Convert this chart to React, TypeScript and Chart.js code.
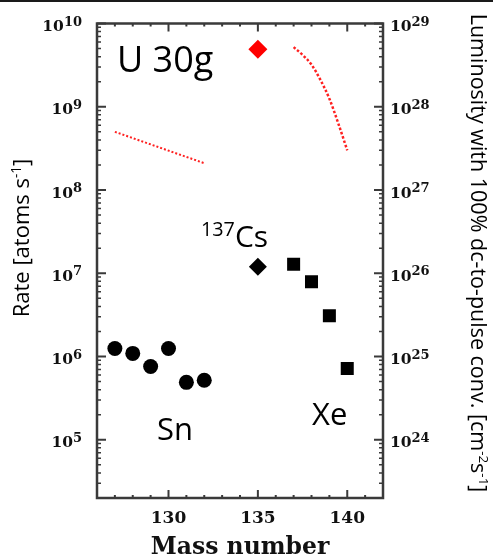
import { useEffect, useRef } from "react";
import { Chart, registerables } from "chart.js";

Chart.register(...registerables);

// ---- data ----
const snMass = [127, 128, 129, 130, 131, 132];
const snRate = [1.25e6, 1.09e6, 7.6e5, 1.25e6, 4.9e5, 5.2e5];
const csMass = [135];
const csRate = [1.2e7];
const xeMass = [137, 138, 139, 140];
const xeRate = [1.28e7, 7.9e6, 3.1e6, 7.2e5];
const csLumMass = [135];
const csLum = [4.9e28];
const snLumMass = [127, 132];
const snLum = [5e27, 2.1e27];
const xeLumMass = [137, 137.5, 138, 138.5, 139, 139.5, 140];
const xeLum = [5.2e28, 4.2e28, 3.2e28, 2.1e28, 1.25e28, 6.3e27, 3e27];
const xTicks = [130, 135, 140];
const rateTicks = [1e5, 1e6, 1e7, 1e8, 1e9, 1e10];
const lumTicks = [1e24, 1e25, 1e26, 1e27, 1e28, 1e29];

type Seg = { t: string; sup?: boolean };
const SANS = "'Open Sans', 'Noto Sans', sans-serif";
const SERIF = "'DejaVu Serif', serif";

function drawSegs(
  ctx: CanvasRenderingContext2D,
  segs: Seg[],
  x: number,
  y: number,
  size: number,
  align: "center" | "left",
  supScale = 0.62
) {
  const base = `${size}px ${SANS}`;
  const supF = `${size * supScale}px ${SANS}`;
  let total = 0;
  const ws = segs.map((s) => {
    ctx.font = s.sup ? supF : base;
    const w = ctx.measureText(s.t).width;
    total += w;
    return w;
  });
  let cx = align === "center" ? x - total / 2 : x;
  ctx.textBaseline = "alphabetic";
  ctx.textAlign = "left";
  segs.forEach((s, i) => {
    ctx.font = s.sup ? supF : base;
    ctx.fillText(s.t, cx, s.sup ? y - size * 0.38 : y);
    cx += ws[i];
  });
}

// power-of-ten label "10^e", anchored at right (align right) or left
function drawPow(ctx: CanvasRenderingContext2D, v: number, x: number, y: number, align: "left" | "right") {
  const e = String(Math.round(Math.log10(v)));
  const baseF = `bold 15.5px ${SERIF}`;
  const expF = `bold 13px ${SERIF}`;
  ctx.font = baseF;
  const wb = ctx.measureText("10").width;
  ctx.font = expF;
  const we = ctx.measureText(e).width;
  const x0 = align === "right" ? x - wb - we : x;
  ctx.textAlign = "left";
  ctx.textBaseline = "alphabetic";
  ctx.font = baseF;
  ctx.fillText("10", x0, y + 7.5);
  ctx.font = expF;
  ctx.fillText(e, x0 + wb, y + 2);
}

const framePlugin = {
  id: "frame",
  afterDraw(chart: any) {
    const ctx: CanvasRenderingContext2D = chart.ctx;
    const { left, right, top, bottom } = chart.chartArea;
    const xs = chart.scales.x;
    const ys = chart.scales.y;
    const ys2 = chart.scales.y2;
    ctx.save();
    // top crop line
    ctx.fillStyle = "#1a1a1a";
    ctx.fillRect(0, 0, chart.width, 2);

    ctx.strokeStyle = "#3a3a3a";
    const yMin = ys.min, yMax = ys.max;
    for (let d = 4; d <= 10; d++) {
      for (let m = 1; m <= 9; m++) {
        const v = m * Math.pow(10, d);
        if (v < yMin || v > yMax) continue;
        const py = ys.getPixelForValue(v);
        const major = m === 1;
        const len = major ? 9 : 4;
        ctx.lineWidth = major ? 2 : 1.5;
        ctx.beginPath();
        ctx.moveTo(left, py); ctx.lineTo(left + len, py);
        ctx.moveTo(right, py); ctx.lineTo(right - len, py);
        ctx.stroke();
      }
    }
    for (let v = 127; v <= 141; v++) {
      const px = xs.getPixelForValue(v);
      const major = v % 5 === 0;
      const len = major ? 8 : 3;
      ctx.lineWidth = 2;
      ctx.beginPath();
      ctx.moveTo(px, bottom); ctx.lineTo(px, bottom - len);
      ctx.moveTo(px, top); ctx.lineTo(px, top + len);
      ctx.stroke();
    }
    ctx.lineWidth = 2.5;
    ctx.strokeRect(left, top, right - left, bottom - top);

    // y tick labels
    ctx.fillStyle = "#111";
    rateTicks.forEach((v) => drawPow(ctx, v, left - 15, ys.getPixelForValue(v), "right"));
    lumTicks.forEach((v) => drawPow(ctx, v, right + 7, ys2.getPixelForValue(v), "left"));

    // annotations
    ctx.fillStyle = "#000";
    drawSegs(ctx, [{ t: "U 30g" }], 117, 72, 36, "left");
    drawSegs(ctx, [{ t: "Sn" }], 157, 440, 31, "left");
    drawSegs(ctx, [{ t: "Xe" }], 312, 425, 31, "left");
    drawSegs(ctx, [{ t: "137", sup: true }, { t: "Cs" }], 201, 247, 30, "left", 0.66);

    // y titles
    ctx.save();
    ctx.translate(21, 238);
    ctx.rotate(-Math.PI / 2);
    drawSegs(ctx, [{ t: "Rate [atoms s" }, { t: "-1", sup: true }, { t: "]" }], 0, 8, 22, "center");
    ctx.restore();

    ctx.save();
    ctx.translate(479, 253);
    ctx.rotate(Math.PI / 2);
    drawSegs(
      ctx,
      [
        { t: "Luminosity with 100% dc-to-pulse conv. [cm" },
        { t: "-2", sup: true },
        { t: "s" },
        { t: "-1", sup: true },
        { t: "]" },
      ],
      0, 8, 21.5, "center"
    );
    ctx.restore();
    ctx.restore();
  },
};

export default function App() {
  const ref = useRef<HTMLCanvasElement | null>(null);
  useEffect(() => {
    if (!ref.current) return;
    const pts = (xs: number[], ys: number[]) => xs.map((x, i) => ({ x, y: ys[i] }));
    const chart = new Chart(ref.current, {
      type: "scatter",
      data: {
        datasets: [
          {
            label: "Sn",
            data: pts(snMass, snRate),
            yAxisID: "y",
            pointStyle: "circle",
            pointRadius: 7.5,
            backgroundColor: "#000",
            borderColor: "#000",
            borderWidth: 0,
          },
          {
            label: "137Cs",
            data: pts(csMass, csRate),
            yAxisID: "y",
            pointStyle: "rectRot",
            pointRadius: 9,
            backgroundColor: "#000",
            borderColor: "#000",
            borderWidth: 0,
          },
          {
            label: "Xe",
            data: pts(xeMass, xeRate),
            yAxisID: "y",
            pointStyle: "rect",
            pointRadius: 9.2,
            backgroundColor: "#000",
            borderColor: "#000",
            borderWidth: 0,
          },
          {
            label: "Cs luminosity",
            data: pts(csLumMass, csLum),
            yAxisID: "y2",
            pointStyle: "rectRot",
            pointRadius: 9.5,
            backgroundColor: "#ff0000",
            borderColor: "#ff0000",
            borderWidth: 0,
          },
          {
            label: "Sn luminosity",
            data: pts(snLumMass, snLum),
            yAxisID: "y2",
            showLine: true,
            pointRadius: 0,
            borderColor: "#ff2020",
            borderWidth: 2,
            borderDash: [2, 2],
          },
          {
            label: "Xe luminosity",
            data: pts(xeLumMass, xeLum),
            yAxisID: "y2",
            showLine: true,
            pointRadius: 0,
            borderColor: "#ff2020",
            borderWidth: 2.5,
            borderDash: [2.5, 2],
            cubicInterpolationMode: "monotone",
          },
        ],
      },
      plugins: [framePlugin],
      options: {
        responsive: false,
        animation: false,
        layout: { padding: { top: 23.5, left: 0, right: 0, bottom: 0 } },
        plugins: { legend: { display: false }, tooltip: { enabled: false } },
        scales: {
          x: {
            type: "linear",
            min: 126,
            max: 142,
            grid: { display: false, drawTicks: false },
            border: { display: false },
            afterBuildTicks: (axis: any) => {
              axis.ticks = xTicks.map((v) => ({ value: v }));
            },
            afterFit: (axis: any) => {
              axis.height = 62;
            },
            ticks: {
              padding: 10,
              color: "#111",
              font: { family: SERIF, size: 17, weight: "bold" },
              callback: (v: any) => String(v),
            },
            title: {
              display: true,
              text: "Mass number",
              color: "#111",
              padding: { top: 0, bottom: 0 },
              font: { family: SERIF, size: 23.5, weight: "bold", lineHeight: 1 },
            },
          },
          y: {
            type: "logarithmic",
            position: "left",
            min: 2e4,
            max: 1e10,
            grid: { display: false, drawTicks: false },
            border: { display: false },
            afterBuildTicks: (axis: any) => {
              axis.ticks = rateTicks.map((v) => ({ value: v }));
            },
            afterFit: (axis: any) => {
              axis.width = 97;
            },
            ticks: { display: false },
          },
          y2: {
            type: "logarithmic",
            position: "right",
            min: 2e23,
            max: 1e29,
            grid: { display: false, drawTicks: false },
            border: { display: false },
            afterBuildTicks: (axis: any) => {
              axis.ticks = lumTicks.map((v) => ({ value: v }));
            },
            afterFit: (axis: any) => {
              axis.width = 110;
            },
            ticks: { display: false },
          },
        },
      },
    } as any);
    return () => chart.destroy();
  }, []);
  return (
    <div style={{ position: "absolute", left: 0, top: 0, width: 493, height: 560, background: "#fff" }}>
      <canvas ref={ref} width={493} height={560} style={{ display: "block" }} />
    </div>
  );
}
